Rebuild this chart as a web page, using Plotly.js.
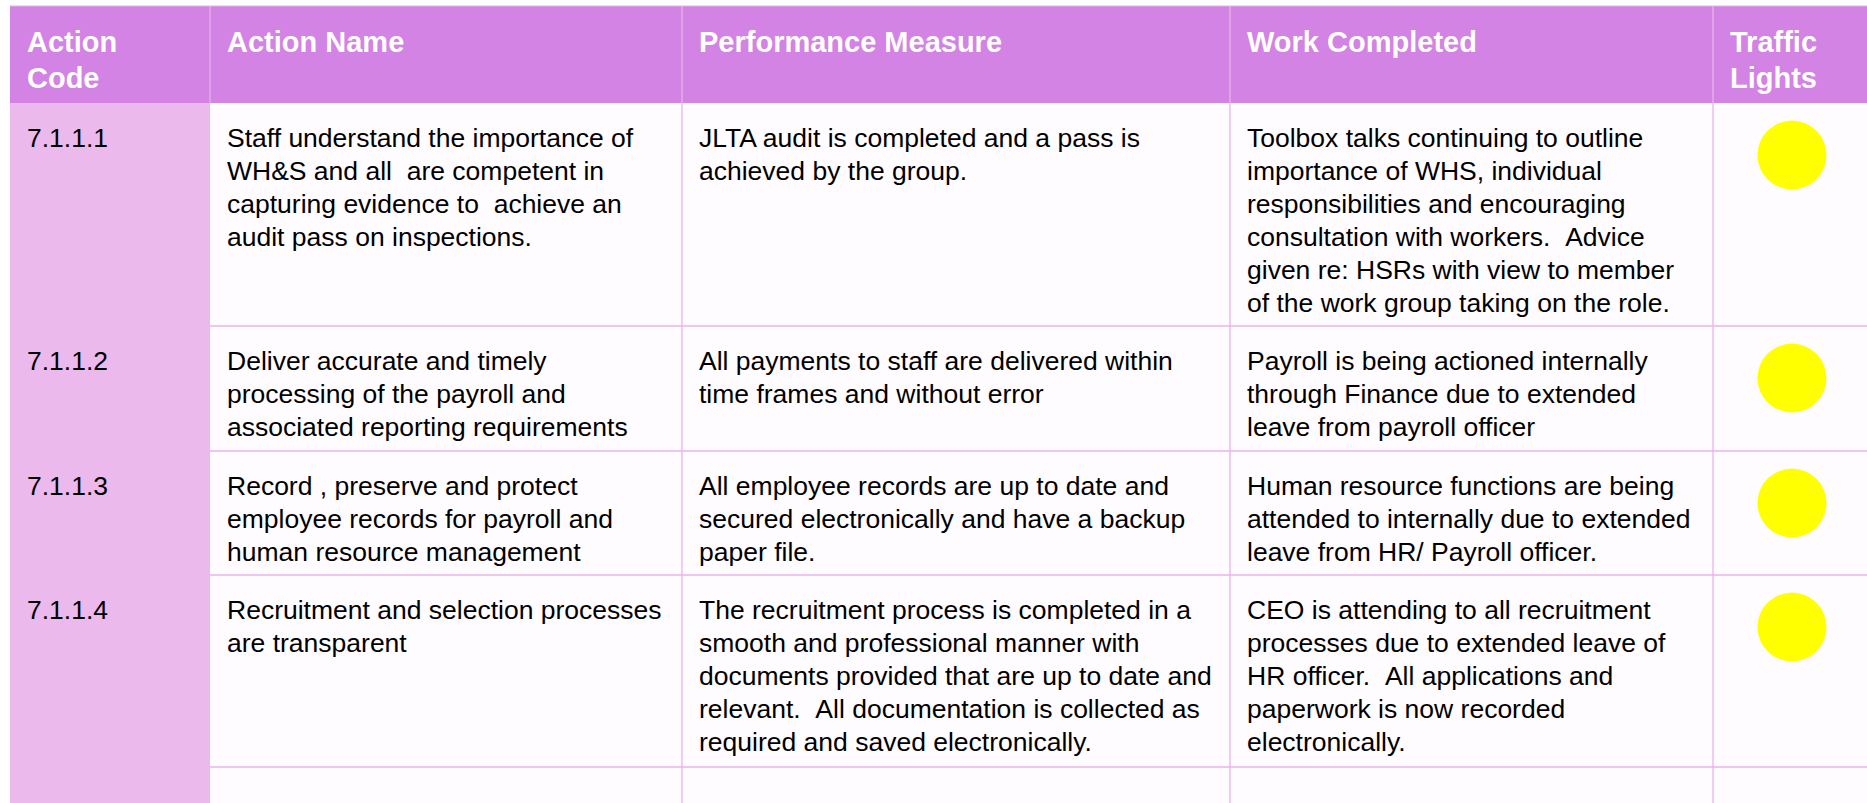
<!DOCTYPE html>
<html>
<head>
<meta charset="utf-8">
<script src="https://cdn.plot.ly/plotly-3.0.1.min.js"></script>
<style>
  html, body { margin: 0; padding: 0; background: #ffffff; }
  #chart { width: 1867px; height: 803px; }
</style>
</head>
<body>
<div id="chart"></div>
<script>
// ---------------- DATA ----------------
const headers = ['Action\nCode', 'Action Name', 'Performance Measure', 'Work Completed', 'Traffic\nLights'];

const actionCodes = ['7.1.1.1', '7.1.1.2', '7.1.1.3', '7.1.1.4', ''];

const actionNames = [
  'Staff understand the importance of\nWH&S and all  are competent in\ncapturing evidence to  achieve an\naudit pass on inspections.',
  'Deliver accurate and timely\nprocessing of the payroll and\nassociated reporting requirements',
  'Record , preserve and protect\nemployee records for payroll and\nhuman resource management',
  'Recruitment and selection processes\nare transparent',
  ''
];

const performanceMeasures = [
  'JLTA audit is completed and a pass is\nachieved by the group.',
  'All payments to staff are delivered within\ntime frames and without error',
  'All employee records are up to date and\nsecured electronically and have a backup\npaper file.',
  'The recruitment process is completed in a\nsmooth and professional manner with\ndocuments provided that are up to date and\nrelevant.  All documentation is collected as\nrequired and saved electronically.',
  ''
];

const workCompleted = [
  'Toolbox talks continuing to outline\nimportance of WHS, individual\nresponsibilities and encouraging\nconsultation with workers.  Advice\ngiven re: HSRs with view to member\nof the work group taking on the role.',
  'Payroll is being actioned internally\nthrough Finance due to extended\nleave from payroll officer',
  'Human resource functions are being\nattended to internally due to extended\nleave from HR/ Payroll officer.',
  'CEO is attending to all recruitment\nprocesses due to extended leave of\nHR officer.  All applications and\npaperwork is now recorded\nelectronically.',
  ''
];

const trafficLights = ['yellow', 'yellow', 'yellow', 'yellow', ''];

// ---------------- LAYOUT / STYLE ----------------
const W = 1867, H = 803;
const colEdges = [10, 210, 682, 1230, 1713, 1900];
const rowEdges = [6, 103, 326, 451, 575, 767, 840];
const padX = 15;
const headerFirst = 36, headerStep = 36;
const bodyFirst = 35, bodyStep = 33;
const lightDy = 52, lightDx = 79, lightSize = 69;

const headerFill = '#d383e3';
const codeFill = '#ecb9ec';
const cellFill = '#fffcff';
const borderCol = '#e9b4e9';
const headerLine = '#e6b0e9';
const fontFam = '"Liberation Sans", Arial, Helvetica, sans-serif';
const headerFont = { family: fontFam, size: 29, color: '#ffffff', weight: 'bold' };
const bodyFont = { family: fontFam, size: 26.5, color: '#000000' };

const shapes = [];
const annotations = [];

// header background
shapes.push({ type: 'rect', xref: 'x', yref: 'y', x0: colEdges[0], x1: colEdges[5], y0: rowEdges[0], y1: rowEdges[1],
  fillcolor: headerFill, line: { width: 0 }, layer: 'below' });
// code column background
shapes.push({ type: 'rect', xref: 'x', yref: 'y', x0: colEdges[0], x1: colEdges[1], y0: rowEdges[1], y1: rowEdges[6],
  fillcolor: codeFill, line: { width: 0 }, layer: 'below' });
// body cells background
shapes.push({ type: 'rect', xref: 'x', yref: 'y', x0: colEdges[1], x1: colEdges[5], y0: rowEdges[1], y1: rowEdges[6],
  fillcolor: cellFill, line: { width: 0 }, layer: 'below' });

// horizontal borders in body
for (let r = 2; r <= 5; r++) {
  shapes.push({ type: 'line', xref: 'x', yref: 'y', x0: colEdges[1], x1: colEdges[5], y0: rowEdges[r], y1: rowEdges[r],
    line: { color: borderCol, width: 1.3 }, layer: 'below' });
}
// header top border
shapes.push({ type: 'line', xref: 'x', yref: 'y', x0: colEdges[0], x1: colEdges[5], y0: rowEdges[0], y1: rowEdges[0],
  line: { color: headerLine, width: 1 }, layer: 'below' });
// vertical borders
for (let c = 1; c <= 4; c++) {
  const yStart = rowEdges[0];
  const yEnd = c === 1 ? rowEdges[1] : rowEdges[6];
  shapes.push({ type: 'line', xref: 'x', yref: 'y', x0: colEdges[c], x1: colEdges[c], y0: yStart, y1: yEnd,
    line: { color: c === 1 ? headerLine : borderCol, width: 1.3 }, layer: 'below' });
}

function addLines(text, c, top, first, step, font) {
  if (!text) return;
  text.split('\n').forEach((ln, i) => {
    annotations.push({
      xref: 'x', yref: 'y', x: colEdges[c] + padX, y: top + first + i * step,
      text: ln.replace(/  /g, ' &nbsp;'), showarrow: false, xanchor: 'left', yanchor: 'middle',
      align: 'left', font: font
    });
  });
}

headers.forEach((h, c) => addLines(h, c, rowEdges[0], headerFirst, headerStep, headerFont));
const columns = [actionCodes, actionNames, performanceMeasures, workCompleted];
for (let r = 0; r < actionCodes.length; r++) {
  columns.forEach((col, c) => addLines(col[r], c, rowEdges[r + 1], bodyFirst, bodyStep, bodyFont));
}

// traffic lights as markers
const lx = [], ly = [], lc = [];
trafficLights.forEach((t, r) => {
  if (!t) return;
  lx.push(colEdges[4] + lightDx);
  ly.push(rowEdges[r + 1] + lightDy);
  lc.push(t === 'yellow' ? '#ffff00' : t);
});

const trace = {
  type: 'scatter', mode: 'markers', x: lx, y: ly,
  marker: { size: lightSize, color: lc, line: { width: 0 } },
  hoverinfo: 'skip', showlegend: false
};

const layout = {
  width: W, height: H,
  margin: { l: 0, r: 0, t: 0, b: 0, pad: 0 },
  paper_bgcolor: '#ffffff', plot_bgcolor: '#ffffff',
  xaxis: { range: [0, W], visible: false, fixedrange: true },
  yaxis: { range: [H, 0], visible: false, fixedrange: true },
  shapes: shapes, annotations: annotations, showlegend: false
};

Plotly.newPlot('chart', [trace], layout, { displayModeBar: false, staticPlot: true });
</script>
</body>
</html>
